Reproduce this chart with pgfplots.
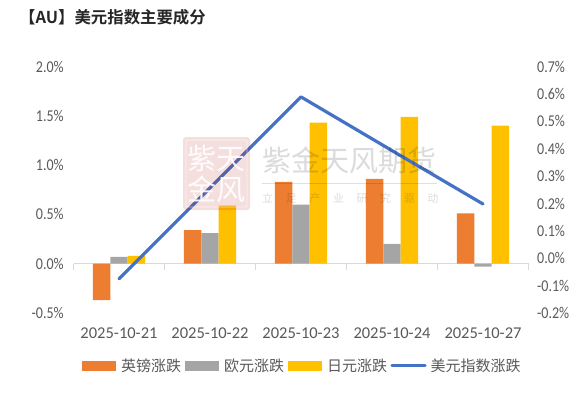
\documentclass[border=0pt]{standalone}
\usepackage{pgfplots}
\usepackage{graphicx}
\pgfplotsset{compat=1.18}
\usepackage{fontspec}
\setmainfont{Carlito}
\newfontfamily\cjk{Noto Sans CJK SC}
\newfontfamily\cjkb{Noto Sans CJK SC Bold}
\definecolor{cOrange}{HTML}{ED7D31}
\definecolor{cGray}{HTML}{A5A5A5}
\definecolor{cYellow}{HTML}{FFC000}
\definecolor{cBlue}{HTML}{4472C4}
\definecolor{cText}{HTML}{595959}
\definecolor{cAxis}{HTML}{D9D9D9}
\pgfplotstableread{
x orange gray yellow line
0 -0.37 0.07 0.08 -0.075
1 0.34 0.31 0.59 0.257
2 0.83 0.60 1.43 0.589
3 0.86 0.20 1.49 0.393
4 0.51 -0.03 1.40 0.198
}\datatable
\newcommand{\pct}[1]{\scalebox{0.85}[1]{\pgfmathprintnumber[fixed,fixed zerofill,precision=1,assume math mode=true]{#1}\%}}
\pgfplotsset{
 common/.style={
  at={(73.5pt,79pt)}, anchor=south west, scale only axis,
  width=455pt, height=246.5pt,
  xmin=-0.5, xmax=4.5,
  /pgf/number format/assume math mode=true,
  tick label style={font=\fontsize{16.5}{19}\selectfont, text=cText},
 }
}
\begin{document}
\begin{tikzpicture}[x=1pt,y=1pt]
\path[use as bounding box] (0,0) rectangle (585,392);
\begin{axis}[common,
  ymin=-0.5, ymax=2.0,
  axis x line=middle, axis y line=left,
  axis line style={-, draw=cAxis, line width=1pt},
  y axis line style={draw=none},
  ytick={-0.5,0,0.5,1,1.5,2},
  yticklabel={\pct{\tick}},
  ytick style={draw=none},
  xtick={0,1,2,3,4},
  xticklabels={2025-10-21,2025-10-22,2025-10-23,2025-10-24,2025-10-27},
  major x tick style={draw=none},
  minor xtick={-0.5,0.5,1.5,2.5,3.5,4.5},
  minor x tick style={draw=cAxis, line width=1pt},
  minor tick length=6pt, tick align=outside,
  x tick label style={yshift=-56pt},
  y tick label style={xshift=-2pt},
  ybar=0pt, bar width=17.4pt,
]
\addplot[draw=none, fill=cOrange, area legend] table[x=x,y=orange]{\datatable};
\addplot[draw=none, fill=cGray, area legend] table[x=x,y=gray]{\datatable};
\addplot[draw=none, fill=cYellow, area legend] table[x=x,y=yellow]{\datatable};
\end{axis}
\begin{axis}[common,
  ymin=-0.2, ymax=0.7,
  axis y line=right, axis x line=none,
  axis line style={draw=none},
  ytick={-0.2,-0.1,0,0.1,0.2,0.3,0.4,0.5,0.6,0.7},
  yticklabel={\pct{\tick}},
  ytick style={draw=none},
  y tick label style={xshift=3pt},
]
\addplot[cBlue, line width=3.2pt, line cap=round, line join=round] table[x=x,y=line]{\datatable};
\end{axis}
% legend keys and text
\begin{scope}[every node/.style={font=\cjk\fontsize{15}{17}\selectfont, text=cText, inner sep=0pt, anchor=west}]
\fill[cOrange] (82,21.5) rectangle (115.5,31.5);
\node at (121,26) {英镑涨跌};
\fill[cGray] (185,21.5) rectangle (218.5,31.5);
\node at (224,26) {欧元涨跌};
\fill[cYellow] (288,21.5) rectangle (321.5,31.5);
\node at (327,26) {日元涨跌};
\draw[cBlue, line width=3.2pt, line cap=round] (392,26.5) -- (425,26.5);
\node at (430.5,26) {美元指数涨跌};
\end{scope}
% title
\node[anchor=west, inner sep=0pt, font=\cjkb\fontsize{16.4}{19}\selectfont, text=black!85] at (19,375) {【AU】美元指数主要成分};
% watermark
\fill[red!70!black, opacity=0.13, rounded corners=3pt] (183,182) rectangle (250,255);
\draw[white, opacity=0.6, line width=0.8pt, rounded corners=2pt] (186,185) rectangle (247,252);
\node[font=\cjk\fontsize{29}{31}\selectfont, text=white, opacity=0.9, align=center, inner sep=0pt] at (216.5,218.5) {紫天\\金风};
\node[anchor=west, inner sep=0pt, font=\cjk\fontsize{29}{30}\selectfont, text=black, opacity=0.14] at (262,232) {紫金天风期货};
\draw[black, opacity=0.12, line width=0.7pt] (262,209) -- (437,209);
\node[anchor=west, inner sep=0pt, font=\cjk\fontsize{11}{12}\selectfont, text=black, opacity=0.14] at (262,194) {立\hspace{12.6pt}足\hspace{12.6pt}产\hspace{12.6pt}业\hspace{12.6pt}研\hspace{12.6pt}究\hspace{12.6pt}驱\hspace{12.6pt}动};
\end{tikzpicture}
\end{document}
